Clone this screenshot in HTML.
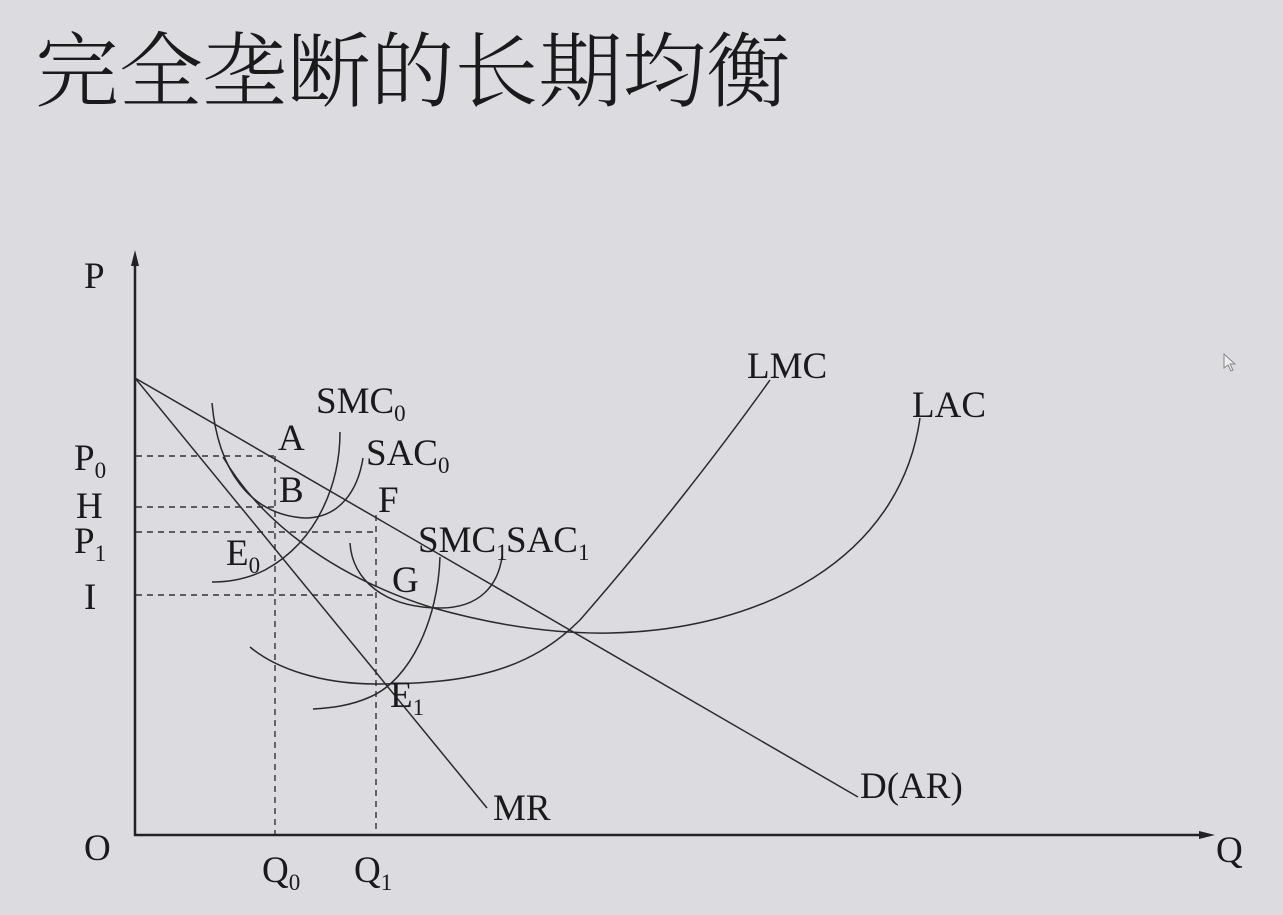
<!DOCTYPE html>
<html><head><meta charset="utf-8"><style>
html,body{margin:0;padding:0;background:#dcdbdf;}
svg{display:block}
.t{font-family:"Liberation Serif","Noto Serif CJK SC",serif;fill:#1a1a1a}
</style></head><body>
<svg width="1283" height="915" viewBox="0 0 1283 915" xmlns="http://www.w3.org/2000/svg">
<rect width="1283" height="915" fill="#dcdbdf"/>
<text x="35" y="100" font-size="82" font-weight="300" font-family="'Noto Serif CJK SC','Noto Sans CJK SC',serif" fill="#1a1a1a" textLength="755" lengthAdjust="spacingAndGlyphs">完全垄断的长期均衡</text>
<g stroke="#222" fill="none" stroke-width="1.6">
<line x1="135" y1="836" x2="135" y2="262" stroke-width="2.5"/>
<line x1="134" y1="835" x2="1205" y2="835" stroke-width="2.5"/>
</g>
<polygon points="135,250 131,266 139,266" fill="#222"/>
<polygon points="1215,835 1199,831 1199,839" fill="#222"/>
<path d="M1224,354 L1224,368 L1228,365 L1231,371 L1233,370 L1230,364 L1235,364 Z" fill="#eee" stroke="#888" stroke-width="1"/>
<g stroke="#333" stroke-width="1.4" stroke-dasharray="6,5" fill="none">
<line x1="136" y1="456" x2="275" y2="456"/>
<line x1="136" y1="507" x2="275" y2="507"/>
<line x1="136" y1="532" x2="376" y2="532"/>
<line x1="136" y1="595" x2="376" y2="595"/>
<line x1="275" y1="456" x2="275" y2="834"/>
<line x1="376" y1="515" x2="376" y2="834"/>
</g>
<g stroke="#2a2a2a" stroke-width="1.5" fill="none">
<line x1="135" y1="378" x2="858" y2="797"/>
<line x1="135" y1="378" x2="487" y2="808"/>
<path d="M212,403 C218,470 250,515 305,518 C340,518 358,490 363,458"/>
<path d="M223,457 C260,520 330,575 430,607 C500,627 560,634 610,633 C760,630 900,560 920,418"/>
<path d="M340,432 C340,480 320,540 265,570 C245,580 225,582 212,582"/>
<path d="M350,543 C352,580 385,608 440,608 C480,608 498,585 502,557"/>
<path d="M440,557 C438,620 410,680 370,697 C350,706 330,708 313,709"/>
<path d="M250,647 C275,668 320,684 376,684 C470,684 530,670 580,620 C650,540 720,450 770,380"/>
</g>
<g class="t" font-size="37">
<text x="84" y="288">P</text>
<text x="74" y="470">P<tspan font-size="23" dy="8">0</tspan></text>
<text x="76" y="518">H</text>
<text x="74" y="553">P<tspan font-size="23" dy="8">1</tspan></text>
<text x="84" y="609">I</text>
<text x="84" y="860">O</text>
<text x="1216" y="862">Q</text>
<text x="262" y="882">Q<tspan font-size="23" dy="8">0</tspan></text>
<text x="354" y="882">Q<tspan font-size="23" dy="8">1</tspan></text>
<text x="316" y="413">SMC<tspan font-size="23" dy="8">0</tspan></text>
<text x="366" y="465">SAC<tspan font-size="23" dy="8">0</tspan></text>
<text x="278" y="450">A</text>
<text x="279" y="502">B</text>
<text x="378" y="512">F</text>
<text x="226" y="565">E<tspan font-size="23" dy="8">0</tspan></text>
<text x="418" y="552">SMC<tspan font-size="23" dy="8">1</tspan></text>
<text x="506" y="552">SAC<tspan font-size="23" dy="8">1</tspan></text>
<text x="392" y="592">G</text>
<text x="390" y="707">E<tspan font-size="23" dy="8">1</tspan></text>
<text x="747" y="378">LMC</text>
<text x="912" y="417">LAC</text>
<text x="493" y="820">MR</text>
<text x="860" y="798">D(AR)</text>
</g>
</svg>
</body></html>
